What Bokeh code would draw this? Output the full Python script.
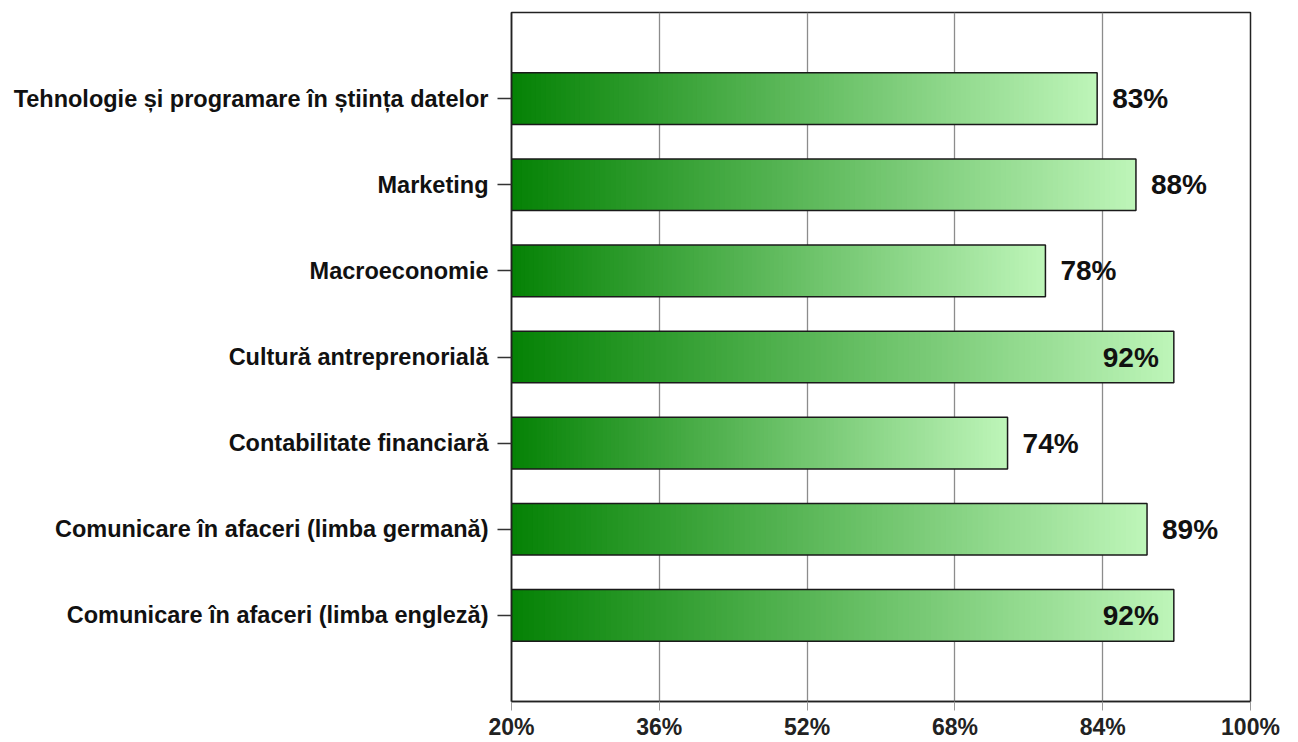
import numpy as np
from bokeh.plotting import figure
from bokeh.models import Range1d, FixedTicker, ColumnDataSource, PrintfTickFormatter
from bokeh.core.properties import value as pvalue
from bokeh.embed import file_html
from bokeh.resources import INLINE

# ---- data (top to bottom) ----
categories = [
    "Tehnologie și programare în știința datelor",
    "Marketing",
    "Macroeconomie",
    "Cultură antreprenorială",
    "Contabilitate financiară",
    "Comunicare în afaceri (limba germană)",
    "Comunicare în afaceri (limba engleză)",
]
values = [83.4, 87.6, 77.8, 91.7, 73.7, 88.8, 91.7]
labels = ["83%", "88%", "78%", "92%", "74%", "89%", "92%"]
x_ticks = [20, 36, 52, 68, 84, 100]

FONT = "Liberation Sans"
n = len(categories)
ypos = [n - i for i in range(n)]  # 7..1

p = figure(width=1290, height=742, output_backend="svg", toolbar_location=None,
           x_range=Range1d(20, 100), y_range=Range1d(0, n + 1),
           min_border_left=511, min_border_top=12, min_border_right=40, min_border_bottom=30)
p.background_fill_color = "white"
p.border_fill_color = "white"
p.outline_line_color = "#222222"
p.outline_line_width = 1.5

# gradient bars via thin slices
left_c = np.array([5, 130, 5], dtype=float)
right_c = np.array([190, 245, 185], dtype=float)
NS = 120
L, R, T, B, C = [], [], [], [], []
h = 0.6
for v, y in zip(values, ypos):
    edges = np.linspace(20, v, NS + 1)
    for j in range(NS):
        f = (j + 0.5) / NS
        c = left_c + (right_c - left_c) * f
        col = "#%02x%02x%02x" % tuple(int(round(t)) for t in c)
        L.append(edges[j]); R.append(edges[j + 1] + (v - 20) / NS * 0.6 if j < NS - 1 else edges[j + 1])
        T.append(y + h / 2); B.append(y - h / 2); C.append(col)
p.quad(left=L, right=R, top=T, bottom=B, fill_color=C, line_color=None)

src = ColumnDataSource(dict(y=ypos, v=values, lab=labels))
p.hbar(y="y", left=20, right="v", height=h, source=src, fill_color=None,
       line_color="#1a1a1a", line_width=1.5)

# value labels
out_idx = [i for i, v in enumerate(values) if v < 90]
in_idx = [i for i, v in enumerate(values) if v >= 90]
p.text(x=[values[i] for i in out_idx], y=[ypos[i] for i in out_idx],
       text=[labels[i] for i in out_idx], x_offset=15,
       text_align="left", text_baseline="middle", text_font=pvalue(FONT),
       text_font_style="bold", text_font_size="28px", text_color="#111111")
p.text(x=[values[i] for i in in_idx], y=[ypos[i] for i in in_idx],
       text=[labels[i] for i in in_idx], x_offset=-15,
       text_align="right", text_baseline="middle", text_font=pvalue(FONT),
       text_font_style="bold", text_font_size="28px", text_color="#111111")

# axes
p.xaxis.ticker = FixedTicker(ticks=x_ticks)
p.xaxis.formatter = PrintfTickFormatter(format="%d%%")
p.xaxis.axis_line_color = "#222222"
p.xaxis.axis_line_width = 1.5
p.xaxis.major_tick_out = 9
p.xaxis.major_tick_in = 0
p.xaxis.major_tick_line_color = "#999999"
p.xaxis.minor_tick_line_color = None
p.xaxis.major_label_standoff = 3
p.xaxis.major_label_text_font = FONT
p.xaxis.major_label_text_font_style = "bold"
p.xaxis.major_label_text_font_size = "23px"
p.xaxis.major_label_text_color = "#222222"

p.yaxis.ticker = FixedTicker(ticks=ypos)
p.yaxis.major_label_overrides = {y: c for y, c in zip(ypos, categories)}
p.yaxis.axis_line_color = "#222222"
p.yaxis.axis_line_width = 1.5
p.yaxis.major_tick_out = 14
p.yaxis.major_tick_in = 0
p.yaxis.major_tick_line_color = "#333333"
p.yaxis.major_tick_line_width = 1.5
p.yaxis.minor_tick_line_color = None
p.yaxis.major_label_standoff = 9
p.yaxis.major_label_text_font = FONT
p.yaxis.major_label_text_font_style = "bold"
p.yaxis.major_label_text_font_size = "23.5px"
p.yaxis.major_label_text_color = "#111111"

p.xgrid.ticker = FixedTicker(ticks=x_ticks)
p.xgrid.grid_line_color = "#8c8c8c"
p.xgrid.grid_line_width = 1.3
p.ygrid.grid_line_color = None

open("out.html", "w").write(file_html(p, INLINE))
